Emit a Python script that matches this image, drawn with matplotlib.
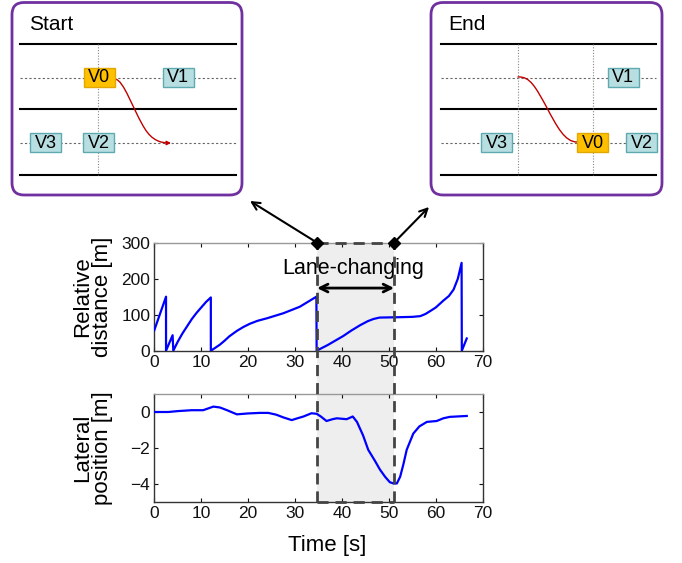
import numpy as np
import matplotlib
matplotlib.use('Agg')
import matplotlib.pyplot as plt
from matplotlib.patches import Rectangle, FancyBboxPatch, FancyArrowPatch
from matplotlib.path import Path
from matplotlib.lines import Line2D

plt.rcParams['font.family'] = ['Liberation Sans', 'DejaVu Sans']

# relative distance to the lead vehicle (drops are vehicle switches)
t_dist = [0, 2.5, 2.5, 3.9, 4.05, 5, 6, 7, 8, 9, 10, 11, 12.05, 12.05, 13, 14, 15, 16, 17.6,
          19, 20.4, 22, 24, 27.5, 31, 34.55, 34.6, 37, 40.3, 42, 43.9, 45.5, 46.7, 48, 52,
          55, 56.7, 57.8, 58.8, 60, 61.6, 62.8, 63.8, 64.7, 65.5, 65.55, 66.6]
d_dist = [57, 150, 0, 43, 0, 25, 48, 68, 88, 105, 120, 135, 148, 0, 8, 17, 28, 40, 55,
          66, 75, 83, 90, 104, 122, 150, 0, 16, 41, 56, 71, 82, 88, 92, 93,
          94, 96, 102, 110, 120, 139, 152, 170, 200, 244, 0, 34]

# lateral position of the ego vehicle
t_lat = [0, 3, 5, 8, 10.4, 11.5, 12.6, 14, 15.5, 17.6, 20, 22.5, 24.3, 26, 27.5, 29.3, 30.5,
         31.8, 33.5, 34.6, 35.5, 36.7, 38, 38.9, 41, 42.3, 43.2, 44.5, 45.6, 47, 48.1, 49.2,
         50.2, 51.0, 51.7, 52.4, 53.1, 53.8, 55.2, 56.5, 58.1, 60.2, 61.6, 63, 66.6]
y_lat = [0, 0, 0.05, 0.1, 0.1, 0.2, 0.3, 0.25, 0.1, -0.13, -0.08, -0.05, -0.05, -0.15, -0.3,
         -0.45, -0.35, -0.25, -0.07, -0.1, -0.25, -0.5, -0.4, -0.35, -0.4, -0.25, -0.55, -1.3,
         -2.1, -2.7, -3.2, -3.6, -3.9, -3.97, -3.97, -3.6, -2.9, -2.1, -1.2, -0.8, -0.55, -0.5,
         -0.35, -0.27, -0.22]

lc_start, lc_end = 34.7, 51.1

# vehicles in the sketches: (label, x centre, y centre, ego?)
start_cars = [('V0', 99, 77.5, True), ('V1', 178, 77.5, False),
              ('V3', 45.5, 142.5, False), ('V2', 98.5, 142.5, False)]
end_cars = [('V1', 623, 77.5, False), ('V3', 496.5, 142.5, False),
            ('V0', 592.5, 142.5, True), ('V2', 641.5, 142.5, False)]

W, H = 682, 563
fig = plt.figure(figsize=(W / 100, H / 100), dpi=100)

ax1 = fig.add_axes([154.3 / W, 1 - 350.7 / H, 328.4 / W, 108 / H])
ax2 = fig.add_axes([154.3 / W, 1 - 502 / H, 328.4 / W, 108 / H])

for ax in (ax1, ax2):
    ax.set_facecolor('none')
    ax.set_xlim(0, 70)
    ax.set_xticks(range(0, 71, 10))
    ax.tick_params(direction='in', length=3, top=True, right=True, labelsize=12.5,
                   colors='#111111', pad=3)
    for s in ax.spines.values():
        s.set_color('#333333')
        s.set_linewidth(1.0)
    ax.spines['top'].set_color('#999999')

ax1.plot(t_dist, d_dist, color='#0000ff', lw=1.6, zorder=3)
ax1.set_ylim(0, 300)
ax1.set_yticks([0, 100, 200, 300])
ax1.set_ylabel('Relative\ndistance [m]', fontsize=16, linespacing=0.95)
ax1.yaxis.set_label_coords(-0.125, 0.5)

ax2.plot(t_lat, y_lat, color='#0000ff', lw=1.6, zorder=3)
ax2.set_ylim(-5, 1)
ax2.set_yticks([-4, -2, 0])
ax2.set_ylabel('Lateral\nposition [m]', fontsize=16, linespacing=0.95)
ax2.yaxis.set_label_coords(-0.125, 0.5)
ax2.set_xlabel('Time [s]', fontsize=16)
ax2.xaxis.set_label_coords(0.526, -0.31)

# lane-changing window spanning both axes
to_fig = fig.transFigure.inverted()
xl, yt = to_fig.transform(ax1.transData.transform((lc_start, 300)))
xr, _ = to_fig.transform(ax1.transData.transform((lc_end, 300)))
_, yb = to_fig.transform(ax2.transData.transform((lc_start, -5)))
fig.patches.append(Rectangle((xl, yb), xr - xl, yt - yb, transform=fig.transFigure,
                             facecolor='#eeeeee', edgecolor='none', zorder=-1))
dash = dict(color='#444444', lw=2, ls=(0, (4, 2.5)), transform=fig.transFigure, zorder=5)
fig.lines.append(Line2D([xl, xl], [yb, yt], **dash))
fig.lines.append(Line2D([xr, xr], [yb, yt], **dash))
fig.lines.append(Line2D([xl, xr], [yt, yt], **dash))
fig.lines.append(Line2D([xl, xr], [yb, yb], **dash))
fig.lines.append(Line2D([xl, xr], [yt, yt], ls='none', marker='D', ms=6, color='black',
                        transform=fig.transFigure, zorder=6))

ax1.annotate('', xy=(lc_start, 174), xytext=(lc_end, 174),
             arrowprops=dict(arrowstyle='<->', lw=2, color='black', mutation_scale=14,
                             shrinkA=0, shrinkB=0), zorder=6)
ax1.text(42.3, 228, 'Lane-changing', fontsize=15.5, ha='center', va='center', zorder=6)

# overlay in pixel coordinates for the sketches
ov = fig.add_axes([0, 0, 1, 1], zorder=10)
ov.set_xlim(0, W)
ov.set_ylim(H, 0)
ov.axis('off')
ov.patch.set_alpha(0)

inv = ov.transData.inverted()
pl = inv.transform(fig.transFigure.transform((xl, yt)))
pr = inv.transform(fig.transFigure.transform((xr, yt)))
ov.annotate('', xy=(250, 201), xytext=tuple(pl),
            arrowprops=dict(arrowstyle='->', lw=1.5, color='black', mutation_scale=14,
                            shrinkA=0, shrinkB=0))
ov.annotate('', xy=(429, 207), xytext=tuple(pr),
            arrowprops=dict(arrowstyle='->', lw=1.5, color='black', mutation_scale=14,
                            shrinkA=0, shrinkB=0))


def panel(x0, x1, lx0, lx1, vlines, title, cars):
    ov.add_patch(FancyBboxPatch((x0, 2.5), x1 - x0, 192.5,
                                boxstyle='round,pad=0,rounding_size=12',
                                fc='white', ec='#7030a0', lw=2))
    for y in (44, 109, 175):
        ov.plot([lx0, lx1], [y, y], color='black', lw=1.5)
    for y in (77.7, 142.7):
        ov.plot([lx0, lx1], [y, y], color='#666666', lw=0.8, ls=(0, (2, 2)))
    for x in vlines:
        ov.plot([x, x], [44, 175], color='#888888', lw=0.8, ls=(0, (1, 1.5)))
    ov.text(x0 + 17, 25, title, fontsize=15, ha='left', va='center')
    for name, cx, cy, ego in cars:
        fc, ec = ('#ffc000', '#e0a800') if ego else ('#b7dee0', '#5fa9b0')
        ov.add_patch(Rectangle((cx - 15.5, cy - 9.5), 31, 19, fc=fc, ec=ec, lw=1, zorder=3))
        ov.text(cx, cy + 0.5, name, fontsize=13, ha='center', va='center', zorder=4)


panel(12, 242, 20, 236, [97.7], 'Start', start_cars)
panel(431, 662, 441, 656, [518, 593], 'End', end_cars)

p1 = Path([(115, 79), (124, 80), (133, 110), (145, 129), (152, 140), (160, 143), (171, 143)],
          [Path.MOVETO, Path.CURVE4, Path.CURVE4, Path.CURVE4, Path.CURVE4, Path.CURVE4,
           Path.CURVE4])
ov.add_patch(FancyArrowPatch(path=p1, arrowstyle='-|>', mutation_scale=6, color='#c00000',
                             lw=1, zorder=2))
p2 = Path([(518, 77), (530, 76), (536, 88), (546, 106), (557, 127), (565, 142), (577, 142)],
          [Path.MOVETO, Path.CURVE4, Path.CURVE4, Path.CURVE4, Path.CURVE4, Path.CURVE4,
           Path.CURVE4])
ov.add_patch(FancyArrowPatch(path=p2, arrowstyle='-', color='#c00000', lw=1, zorder=2))

fig.savefig('out.png', dpi=100)
